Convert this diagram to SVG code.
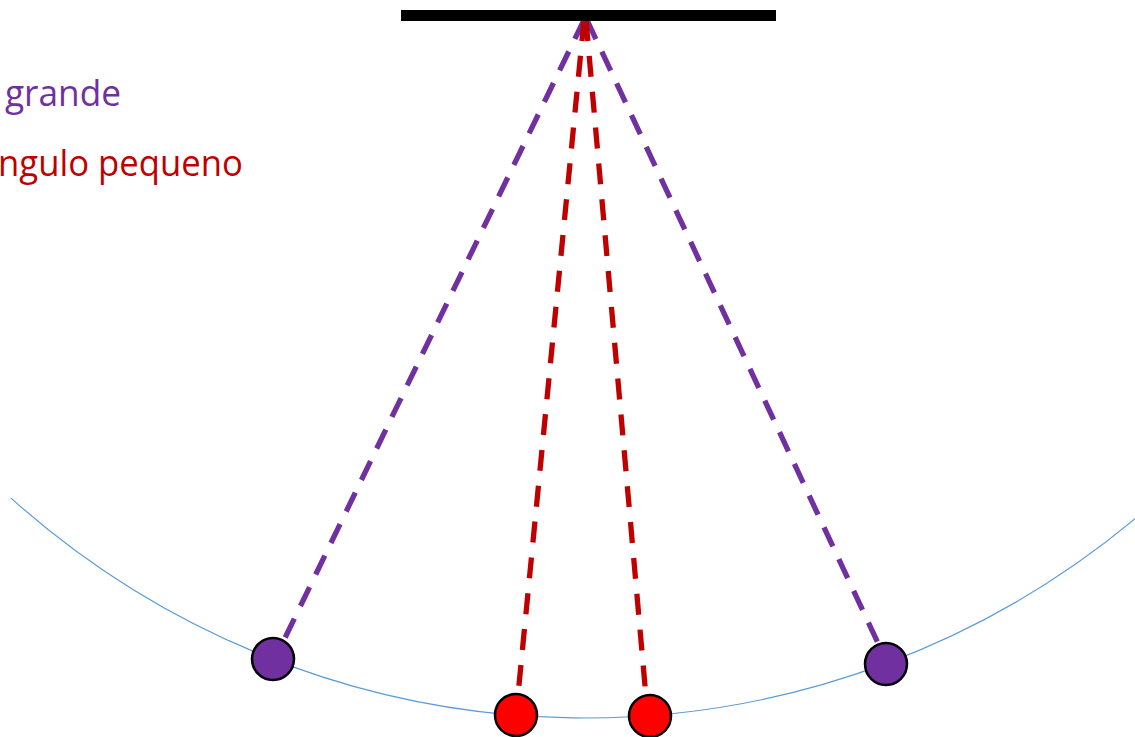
<svg xmlns="http://www.w3.org/2000/svg" width="1135" height="737" viewBox="0 0 1135 737">
  <style>
    .lbl { font-family: "Open Sans", "Liberation Sans", sans-serif; font-size: 36px; }
    .purple-line { stroke: #7030A0; stroke-width: 5.3; stroke-dasharray: 21 14; fill: none; }
    .red-line { stroke: #C00000; stroke-width: 5.3; stroke-dasharray: 21 15; fill: none; }
    .ball { stroke: #000000; stroke-width: 2.5; }
  </style>
  <rect width="1135" height="737" fill="#ffffff"/>
  <g id="labels">
    <text class="lbl" x="5" y="106" fill="#7030A0" textLength="116" lengthAdjust="spacingAndGlyphs">grande</text>
    <text class="lbl" x="-2" y="176" fill="#C00000" textLength="245" lengthAdjust="spacingAndGlyphs">ngulo pequeno</text>
  </g>
  <path id="arc" d="M 11 498.1 A 859 859 0 0 0 1140 514.6" fill="none" stroke="#5B9BD5" stroke-width="1.2"/>
  <g id="connectors">
    <line class="purple-line" x1="584" y1="20" x2="284" y2="640"/>
    <line class="purple-line" x1="587" y1="20" x2="878" y2="643"/>
    <line class="red-line" x1="584" y1="20" x2="518" y2="695"/>
    <line class="red-line" x1="586" y1="20" x2="646" y2="697"/>
  </g>
  <g id="support">
    <rect x="401" y="10" width="375" height="11" fill="#000000"/>
  </g>
  <g id="ball-left-large">
    <circle class="ball" cx="273" cy="659" r="21" fill="#7030A0"/>
  </g>
  <g id="ball-right-large">
    <circle class="ball" cx="886" cy="664" r="21" fill="#7030A0"/>
  </g>
  <g id="ball-left-small">
    <circle class="ball" cx="516" cy="715" r="21" fill="#FF0000"/>
  </g>
  <g id="ball-right-small">
    <circle class="ball" cx="650" cy="716" r="21" fill="#FF0000"/>
  </g>
</svg>
